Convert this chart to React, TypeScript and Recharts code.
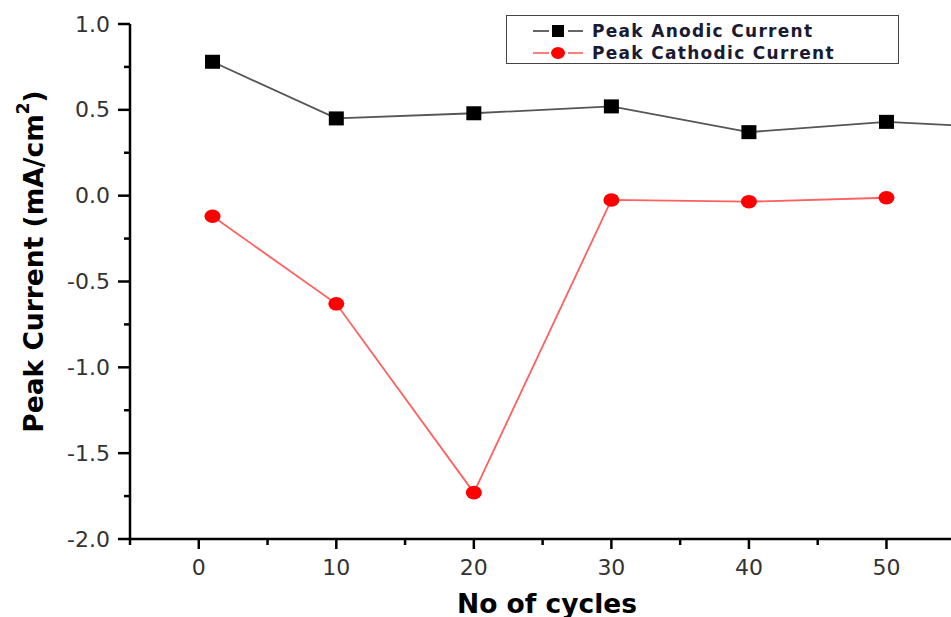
import React from "react";
import { LineChart, Line, XAxis, YAxis } from "recharts";

// cycle number vs peak current density (mA/cm²)
const cycles = [1, 10, 20, 30, 40, 50, 60];
const anodicCurrent = [0.78, 0.45, 0.48, 0.52, 0.37, 0.43, 0.39];
const cathodicCurrent: (number | null)[] = [-0.12, -0.63, -1.73, -0.025, -0.035, -0.012, null];

const xTicks = [-5, 0, 5, 10, 15, 20, 25, 30, 35, 40, 45, 50, 55, 60];
const xLabelled = [0, 10, 20, 30, 40, 50];
const yTicks = [-2, -1.75, -1.5, -1.25, -1, -0.75, -0.5, -0.25, 0, 0.25, 0.5, 0.75, 1];

const data = cycles.map((c, i) => ({
  cycle: c,
  anodic: anodicCurrent[i],
  cathodic: cathodicCurrent[i],
}));

const FONT = '"DejaVu Sans", sans-serif';
const TICK_COLOR = "#333";

function YTick(props: any) {
  const { x, y, payload } = props;
  const v: number = payload.value;
  const major = Math.abs(v * 2 - Math.round(v * 2)) < 1e-6;
  return (
    <g>
      <line x1={x} x2={x - (major ? 12 : 6)} y1={y} y2={y} stroke="#000" strokeWidth={2.5} />
      {major && (
        <text
          x={x - 20}
          y={y}
          textAnchor="end"
          dominantBaseline="central"
          fontFamily={FONT}
          fontSize={22}
          fill={TICK_COLOR}
        >
          {v.toFixed(1)}
        </text>
      )}
    </g>
  );
}

function XTick(props: any) {
  const { x, y, payload } = props;
  const v: number = payload.value;
  const major = v % 10 === 0;
  return (
    <g>
      <line x1={x} x2={x} y1={y} y2={y + (major ? 10 : 6)} stroke="#000" strokeWidth={2.5} />
      {xLabelled.includes(v) && (
        <text
          x={x}
          y={y + 28}
          textAnchor="middle"
          dominantBaseline="central"
          fontFamily={FONT}
          fontSize={22}
          fill={TICK_COLOR}
        >
          {v}
        </text>
      )}
    </g>
  );
}

function SquareDot(props: any) {
  const { cx, cy, index } = props;
  if (cx == null || cy == null) return <g key={`sq-${index}`} />;
  return <rect key={`sq-${index}`} x={cx - 7.5} y={cy - 7} width={15} height={14} fill="#000" />;
}

function RoundDot(props: any) {
  const { cx, cy, index } = props;
  if (cx == null || cy == null) return <g key={`rd-${index}`} />;
  return <ellipse key={`rd-${index}`} cx={cx} cy={cy} rx={8} ry={6.8} fill="#ff0000" />;
}

function XTitle(props: any) {
  const { viewBox } = props;
  return (
    <text
      x={viewBox.x + 417}
      y={viewBox.y + 64}
      textAnchor="middle"
      dominantBaseline="central"
      fontFamily={FONT}
      fontWeight="bold"
      fontSize={26.5}
      fill="#000"
    >
      No of cycles
    </text>
  );
}

function YTitle(props: any) {
  const { viewBox } = props;
  const cx = viewBox.x + 33;
  const cy = viewBox.y + viewBox.height / 2 - 20;
  return (
    <text
      x={cx}
      y={cy}
      transform={`rotate(-90 ${cx} ${cy})`}
      textAnchor="middle"
      dominantBaseline="central"
      fontFamily={FONT}
      fontWeight="bold"
      fontSize={26.5}
      fill="#000"
    >
      Peak Current (mA/cm
      <tspan dy={-10} fontSize={17}>
        2
      </tspan>
      <tspan dy={10}>)</tspan>
    </text>
  );
}

function LegendBox() {
  const textStyle = {
    fontFamily: FONT,
    fontWeight: "bold" as const,
    fontSize: 17,
    letterSpacing: 1.3,
    fill: "#1a1a33",
  };
  return (
    <div
      style={{
        position: "absolute",
        left: 506,
        top: 15,
        width: 393,
        height: 49,
        border: "1.5px solid #444",
        boxSizing: "border-box",
        background: "#fff",
      }}
    >
      <svg width={390} height={46} style={{ display: "block" }}>
        <line x1={26} x2={42} y1={15} y2={15} stroke="#555" strokeWidth={1.8} />
        <line x1={61} x2={76} y1={15} y2={15} stroke="#555" strokeWidth={1.8} />
        <rect x={45} y={9} width={12} height={12} fill="#000" />
        <text x={85} y={15} dominantBaseline="central" {...textStyle}>
          Peak Anodic Current
        </text>
        <line x1={26} x2={42} y1={37} y2={37} stroke="#ff7070" strokeWidth={1.8} />
        <line x1={61} x2={76} y1={37} y2={37} stroke="#ff7070" strokeWidth={1.8} />
        <ellipse cx={51} cy={37} rx={7} ry={6} fill="#ff0000" />
        <text x={85} y={37} dominantBaseline="central" {...textStyle}>
          Peak Cathodic Current
        </text>
      </svg>
    </div>
  );
}

export default function App() {
  return (
    <div
      style={{
        position: "absolute",
        left: 0,
        top: 0,
        width: 951,
        height: 617,
        overflow: "hidden",
        background: "#fff",
      }}
    >
      <LineChart width={1100} height={617} data={data} margin={{ top: 24, right: 76, bottom: 0, left: 0 }}>
        <XAxis
          type="number"
          dataKey="cycle"
          domain={[-5, 60]}
          ticks={xTicks}
          interval={0}
          allowDataOverflow
          height={78}
          tickSize={0}
          tickMargin={0}
          tickLine={false}
          axisLine={{ stroke: "#000", strokeWidth: 2.5 }}
          tick={<XTick />}
          label={<XTitle />}
        />
        <YAxis
          type="number"
          domain={[-2, 1]}
          ticks={yTicks}
          interval={0}
          allowDataOverflow
          width={130}
          tickSize={0}
          tickMargin={0}
          tickLine={false}
          axisLine={{ stroke: "#000", strokeWidth: 2.5 }}
          tick={<YTick />}
          label={<YTitle />}
        />
        <Line
          type="linear"
          dataKey="anodic"
          stroke="#555"
          strokeWidth={1.8}
          dot={(p: any) => <SquareDot {...p} />}
          activeDot={false}
          isAnimationActive={false}
        />
        <Line
          type="linear"
          dataKey="cathodic"
          stroke="#ff6060"
          strokeWidth={1.8}
          dot={(p: any) => <RoundDot {...p} />}
          activeDot={false}
          isAnimationActive={false}
        />
      </LineChart>
      <LegendBox />
    </div>
  );
}
